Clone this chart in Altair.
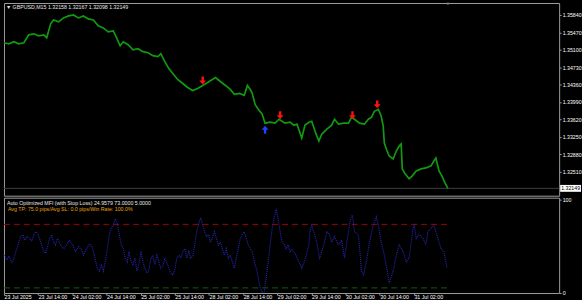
import altair as alt
import pandas as pd

# ---------------- data ----------------
price_hours = [0, 1.7, 3.5, 5.2, 7.0, 8.7, 10.5, 12.2, 14.0, 15.0,
               16.4, 17.4, 19.2, 20.9, 22.7, 24.4, 26.2, 27.9, 29.6, 31.4,
               33.1, 34.9, 36.6, 38.4, 39.4, 40.8, 41.9, 43.6, 45.3, 47.1,
               48.8, 50.6, 52.3, 54.1, 55.1, 56.5, 57.9, 59.3, 61.0, 62.8,
               64.5, 66.3, 68.0, 69.8, 71.5, 73.2, 74.3, 76.0, 77.8, 79.5,
               80.9, 82.7, 84.4, 85.5, 86.5, 87.2, 88.2, 89.3, 90.7, 91.7,
               93.5, 95.2, 96.6, 98.7, 100.5, 101.8, 102.9, 104.6, 105.7, 107.1,
               108.1, 109.5, 110.6, 111.6, 113.4, 115.1, 116.1, 117.5, 119.3, 121.0,
               122.1, 123.1, 124.9, 126.6, 128.0, 129.1, 130.1, 131.5, 132.5, 133.2,
               133.6, 134.3, 135.3, 136.7, 137.8, 138.8, 139.5, 139.9, 140.9, 142.3,
               143.4, 144.8, 146.5, 148.2, 150.0, 151.0, 151.7, 152.8, 153.8, 154.9,
               155.9]
price_values = [1.35248, 1.35227, 1.35269, 1.35227, 1.35248, 1.35417, 1.35438, 1.35396, 1.35417, 1.35354,
                1.35650, 1.35734, 1.35692, 1.35777, 1.35819, 1.35840, 1.35777, 1.35819, 1.35755, 1.35734,
                1.35607, 1.35565, 1.35481, 1.35502, 1.35375, 1.35185, 1.35269, 1.35206, 1.35100, 1.35121,
                1.35058, 1.35037, 1.34973, 1.34952, 1.35016, 1.34846, 1.34698, 1.34593, 1.34466, 1.34381,
                1.34297, 1.34233, 1.34276, 1.34339, 1.34402, 1.34466, 1.34508, 1.34424, 1.34339, 1.34254,
                1.34149, 1.34170, 1.34128, 1.34339, 1.34254, 1.34170, 1.33937, 1.33832, 1.33726, 1.33536,
                1.33557, 1.33536, 1.33620, 1.33536, 1.33557, 1.33493, 1.33515, 1.33219, 1.33493, 1.33557,
                1.33578, 1.33324, 1.33155, 1.33303, 1.33409, 1.33493, 1.33620, 1.33515, 1.33536, 1.33536,
                1.33663, 1.33620, 1.33536, 1.33515, 1.33620, 1.33663, 1.33789, 1.33832, 1.33684, 1.33472,
                1.33113, 1.32986, 1.32838, 1.32775, 1.32944, 1.33050, 1.33092, 1.32563, 1.32458, 1.32352,
                1.32415, 1.32521, 1.32563, 1.32584, 1.32627, 1.32732, 1.32796, 1.32521, 1.32415, 1.32267,
                1.32149]

mfi_hours = [0, 1.0, 1.7, 2.8, 3.5, 4.5, 5.2, 5.9, 6.6, 7.3, 8.0, 9.1, 9.8, 10.5, 11.2, 11.9,
             12.9, 14.0, 14.6, 15.3, 16.0, 16.7, 17.4, 18.1, 18.8, 19.9, 20.9, 22.0, 23.0, 24.1,
             25.1, 26.2, 27.2, 27.9, 29.0, 30.0, 31.0, 32.1, 32.8, 33.5, 34.2, 34.9, 35.6, 36.3,
             37.0, 37.7, 38.4, 39.1, 39.8, 40.5, 41.2, 41.9, 42.6, 43.3, 43.9, 44.6, 45.3, 46.0,
             46.7, 47.4, 48.1, 48.8, 49.5, 50.2, 50.9, 51.6, 52.3, 53.0, 53.7, 54.4, 55.1, 55.8,
             56.5, 57.2, 57.9, 58.6, 59.3, 60.0, 60.7, 61.4, 62.1, 62.8, 63.5, 64.2, 64.9, 65.6,
             66.3, 67.0, 67.7, 68.4, 69.1, 69.8, 70.5, 71.2, 71.9, 72.5, 73.2, 73.9, 74.6, 75.3,
             76.0, 76.7, 77.4, 78.1, 78.8, 79.5, 80.2, 80.9, 81.6, 82.3, 83.0, 83.7, 84.4, 85.1,
             85.8, 86.5, 87.2, 87.9, 88.6, 89.3, 90.0, 90.7, 91.4, 92.1, 92.8, 93.5, 94.2, 94.9,
             95.6, 96.3, 97.0, 97.7, 98.4, 99.1, 99.8, 100.5, 101.2, 102.2, 103.6, 104.6, 105.7,
             107.1, 107.4, 108.1, 108.8, 109.9, 110.6, 110.9, 112.3, 113.4, 114.4, 115.1, 116.1,
             117.5, 118.6, 119.6, 121.0, 121.7, 122.4, 123.1, 124.5, 125.6, 126.3, 127.3, 128.4,
             129.7, 130.8, 131.5, 132.5, 133.6, 135.0, 135.3, 136.7, 137.8, 138.8, 140.2, 141.3,
             142.3, 143.7, 144.1, 144.8, 145.8, 147.2, 148.2, 148.9, 150.0, 151.0, 152.4, 153.5,
             154.5, 155.6]
mfi_values = [40, 35, 39, 32, 37, 47, 54, 60, 62, 56, 60, 58, 55, 62, 65, 63,
              54, 44, 42, 49, 58, 62, 54, 51, 58, 51, 47, 51, 56, 51,
              44, 49, 46, 40, 47, 52, 49, 35, 26, 23, 30, 23, 33, 47,
              62, 69, 72, 79, 74, 62, 51, 47, 37, 33, 44, 33, 30, 37,
              23, 30, 44, 33, 26, 21, 24, 37, 39, 30, 40, 33, 26, 28,
              37, 32, 26, 21, 19, 24, 37, 40, 37, 44, 47, 37, 44, 37,
              39, 51, 65, 74, 80, 72, 65, 60, 62, 54, 58, 65, 58, 51,
              54, 47, 40, 47, 37, 40, 33, 26, 37, 47, 58, 62, 65, 58,
              51, 47, 44, 33, 26, 16, 5, 0, 1, 16, 33, 51, 69, 80,
              90, 79, 65, 54, 52, 47, 51, 44, 46, 42, 33, 26, 35,
              51, 65, 72, 65, 54, 40, 37, 51, 65, 62, 54, 60,
              51, 56, 37, 65, 79, 83, 65, 62, 23, 19, 33, 54,
              72, 81, 72, 54, 40, 16, 10, 23, 40, 51, 44, 33,
              37, 69, 72, 58, 62, 58, 51, 65, 69, 72, 58, 47,
              44, 26]

sell_hours = [69.8, 97.0, 122.4, 131.1]
sell_prices = [1.34445, 1.33705, 1.33705, 1.33937]
buy_hours = [91.7]
buy_prices = [1.33398]

price_ticks = [1.35840, 1.35470, 1.35100, 1.34730, 1.34360,
               1.33990, 1.33620, 1.33250, 1.32880, 1.32510]
date_tick_hours = [0, 12, 24, 36, 48, 60, 72, 84, 96, 108, 120, 132, 144]
date_labels = ["23 Jul 2025", "23 Jul 14:00", "24 Jul 02:00", "24 Jul 14:00",
               "25 Jul 02:00", "25 Jul 14:00", "28 Jul 02:00", "28 Jul 14:00",
               "29 Jul 02:00", "29 Jul 14:00", "30 Jul 02:00", "30 Jul 14:00",
               "31 Jul 02:00"]
last_price = 1.32149
upper_level = 73
lower_level = 5
header_text = "▼ GBPUSD,M15  1.32158 1.32167 1.32098 1.32149"
ind_title = "Auto Optimized MFI (with Stop Loss) 24.9579 73.0000 5.0000"
ind_stats = "Avg TP: 75.0 pips/Avg SL: 0.0 pips/Win Rate: 100.0%"

# ---------------- styling ----------------
FONT = "Liberation Sans Narrow, Liberation Sans, Arial, sans-serif"
FS = 5.3
W = 559
H_TOP = 194
H_BOT = 96
X_DOMAIN = [0, 195]
P_DOMAIN = [1.31993, 1.36094]
M_DOMAIN = [-0.5, 101.6]
GREY = "#9c9c9c"

price_df = pd.DataFrame({"h": price_hours, "p": price_values})
mfi_df = pd.DataFrame({"h": mfi_hours, "m": mfi_values})
sell_df = pd.DataFrame({"h": sell_hours, "p": sell_prices})
buy_df = pd.DataFrame({"h": buy_hours, "p": buy_prices})
last_df = pd.DataFrame({"p": [last_price], "t": [f"{last_price:.5f}"]})
levels_df = pd.DataFrame({"m": [upper_level, lower_level],
                          "h0": [mfi_hours[0]] * 2,
                          "h1": [mfi_hours[-1]] * 2,
                          "c": ["#a00000", "#0b5e0b"]})

xs_top = alt.X("h:Q", scale=alt.Scale(domain=X_DOMAIN, nice=False, zero=False), axis=None)
ys_top = alt.Y("p:Q", scale=alt.Scale(domain=P_DOMAIN, nice=False, zero=False),
               axis=alt.Axis(orient="right", values=price_ticks, format=".5f",
                             labelFontSize=FS, labelColor="#ffffff", labelFont=FONT,
                             tickSize=2, tickColor=GREY, domain=False, grid=False,
                             labelPadding=1, title=None))

DOWN = "M-0.3,-1L0.3,-1L0.3,0L0.85,0L0,1L-0.85,0L-0.3,0Z"
UP = "M-0.3,1L0.3,1L0.3,0L0.85,0L0,-1L-0.85,0L-0.3,0Z"
BOX = "M-1,-0.33L1,-0.33L1,0.33L-1,0.33Z"

bid = alt.Chart(last_df).mark_rule(color="#3b4046", strokeWidth=1).encode(y=ys_top)
line = alt.Chart(price_df).mark_line(color="#119a11", strokeWidth=1.7).encode(x=xs_top, y=ys_top)
sells = alt.Chart(sell_df).mark_point(shape=DOWN, size=64, filled=True, opacity=1,
                                      color="#ff1010").encode(x=xs_top, y=ys_top)
buys = alt.Chart(buy_df).mark_point(shape=UP, size=64, filled=True, opacity=1,
                                    color="#2040ff").encode(x=xs_top, y=ys_top)
box = alt.Chart(last_df).mark_point(shape=BOX, size=440, filled=True, opacity=1,
                                    color="#ffffff").encode(x=alt.value(570.5), y=ys_top)
box_txt = alt.Chart(last_df).mark_text(align="left", baseline="middle", font=FONT,
                                       fontSize=FS, color="#000000").encode(
    x=alt.value(561), y=ys_top, text="t:N")
header = alt.Chart(last_df).mark_text(align="left", baseline="middle", font=FONT,
                                      fontSize=FS, color="#e8e8e8").encode(
    x=alt.value(2), y=alt.value(4.5), text=alt.value(header_text))
shift = alt.Chart(last_df).mark_point(shape="triangle-down", size=10, filled=True,
                                      color="#7f8aa0", opacity=1).encode(
    x=alt.value(447), y=alt.value(1))

top = alt.layer(bid, line, sells, buys, box, box_txt, header, shift).properties(
    width=W, height=H_TOP)

label_array = "[" + ",".join(f"'{s}'" for s in date_labels) + "]"
xs_bot = alt.X("h:Q", scale=alt.Scale(domain=X_DOMAIN, nice=False, zero=False),
               axis=alt.Axis(values=date_tick_hours, labelExpr=f"{label_array}[round(datum.value/12)]",
                             labelAlign="left", labelBaseline="top", labelFontSize=FS,
                             labelColor="#ffffff", labelFont=FONT, tickSize=2,
                             tickColor=GREY, domain=False, grid=False, labelPadding=0,
                             title=None, labelFlush=False, labelOverlap=False))
ys_bot = alt.Y("m:Q", scale=alt.Scale(domain=M_DOMAIN, nice=False, zero=False),
               axis=alt.Axis(orient="right", values=[0, 100], labelFontSize=FS,
                             labelColor="#ffffff", labelFont=FONT, tickSize=2,
                             tickColor=GREY, domain=False, grid=False, labelPadding=1,
                             title=None))

levels = alt.Chart(levels_df).mark_rule(strokeDash=[6, 4], strokeWidth=1).encode(
    y=ys_bot,
    x=alt.X("h0:Q", scale=alt.Scale(domain=X_DOMAIN, nice=False, zero=False)),
    x2="h1:Q",
    color=alt.Color("c:N", scale=None))
mfi = alt.Chart(mfi_df).mark_line(color="#2626b4", strokeWidth=1.1,
                                  strokeDash=[1, 1]).encode(x=xs_bot, y=ys_bot)
t1 = alt.Chart(last_df).mark_text(align="left", baseline="middle", font=FONT,
                                  fontSize=FS, color="#e8e8e8").encode(
    x=alt.value(3), y=alt.value(5), text=alt.value(ind_title))
t2 = alt.Chart(last_df).mark_text(align="left", baseline="middle", font=FONT,
                                  fontSize=FS, color="#e8a010").encode(
    x=alt.value(4), y=alt.value(11.5), text=alt.value(ind_stats))

bottom = alt.layer(levels, mfi, t1, t2).properties(width=W, height=H_BOT)

chart = alt.vconcat(top, bottom, spacing=0).configure(
    background="#000000",
    padding={"left": 0, "top": 1, "right": 0, "bottom": 0},
).configure_view(stroke=GREY, strokeWidth=1)

chart.save("out.html", embed_options={"renderer": "svg", "actions": False})
